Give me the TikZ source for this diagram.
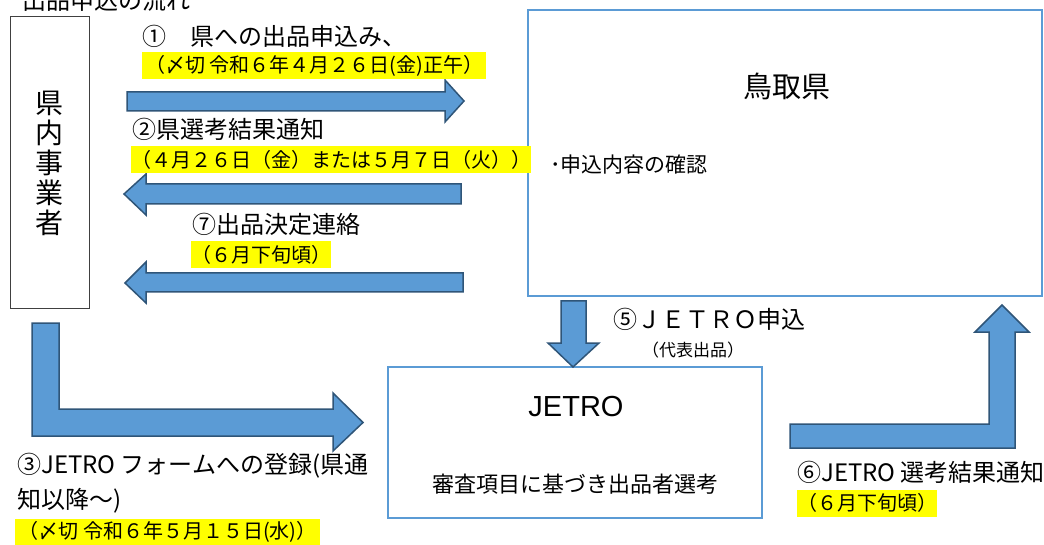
\documentclass[tikz,border=0pt]{standalone}
\usepackage{fontspec}
\setmainfont{Noto Sans CJK JP}
\newfontfamily\latinfont{Liberation Sans}
\usetikzlibrary{positioning}
\definecolor{flowfill}{HTML}{5B9BD5}
\definecolor{flowline}{HTML}{2F5578}
\definecolor{partyline}{HTML}{5B9BD5}
\definecolor{marker}{HTML}{FFFF00}
\tikzset{
    party/.style={
        draw=partyline, line width=2pt,
        inner sep=0pt
    },
    firm/.style={
        draw=black!75, line width=1pt,
        inner sep=0pt, align=center,
        font=\fontsize{28}{30}\selectfont
    },
    flow/.style={
        fill=flowfill, draw=flowline,
        line width=1.5pt, line join=miter
    },
    caption/.style={
        anchor=west, inner sep=0pt,
        font=\fontsize{24}{35}\selectfont
    },
    deadline/.style={
        fill=marker, anchor=west,
        inner sep=0pt, minimum height=27pt,
        font=\fontsize{20}{24}\selectfont
    },
}
\begin{document}
\begin{tikzpicture}[x=1pt, y=-1pt]
        \clip (0,0) rectangle (1044,545);
        \node[anchor=base west, inner sep=0pt, font=\fontsize{24}{28}\selectfont] (title) at (22,10) {出品申込の流れ};

        \node[firm, minimum width=79, minimum height=292] (firm) at (49.5,163) {県\\内\\事\\業\\者};
        \node[party, minimum width=514, minimum height=286] (pref) at (785,153) {};
        \node[party, minimum width=374, minimum height=151] (jetro) at (575,442.5) {};

        \node[font=\fontsize{29}{32}\selectfont] (prefname) at (787,86) {鳥取県};
        \node[caption, font=\fontsize{21}{24}\selectfont] (prefcheck) at (550,165) {･申込内容の確認};
        \node[font=\latinfont\fontsize{29}{32}\selectfont] (jetroname) at (576,407) {JETRO};
        \node[font=\fontsize{22}{26}\selectfont] (jetrosel) at (575,484) {審査項目に基づき出品者選考};

        \draw[flow] (127,92) -- (445,92) -- (445,80) -- (464,101) -- (445,122) -- (445,111) -- (127,111) -- cycle;
        \draw[flow] (461,184) -- (146,184) -- (146,174) -- (124,194) -- (146,215) -- (146,204) -- (461,204) -- cycle;
        \draw[flow] (463,273) -- (146,273) -- (146,262) -- (125,283) -- (146,303) -- (146,292) -- (463,292) -- cycle;
        \draw[flow] (561,301) -- (586,301) -- (586,343) -- (599,343) -- (573,367) -- (548,343) -- (561,343) -- cycle;
        \draw[flow] (32,323) -- (59,323) -- (59,409) -- (333,409) -- (333,393) -- (363,422.5) -- (333,451) -- (333,436) -- (32,436) -- cycle;
        \draw[flow] (790,424) -- (989,424) -- (989,332) -- (975,332) -- (1002,305) -- (1029,332) -- (1015,332) -- (1015,448) -- (790,448) -- cycle;

        \node[caption] (step1) at (142,36) {①　県への出品申込み、};
        \node[deadline, minimum width=344] (due1) at (142,65.5) {（〆切 令和６年４月２６日(金)正午）};
        \node[caption] (step2) at (132,129) {②県選考結果通知};
        \node[deadline, minimum width=382] (due2) at (131,159.5) {（４月２６日（金）または５月７日（火））};
        \node[caption] (step7) at (192,224) {⑦出品決定連絡};
        \node[deadline, minimum width=138] (due7) at (191,255) {（６月下旬頃）};
        \node[caption] (step5) at (613,319) {⑤ＪＥＴＲＯ申込};
        \node[font=\fontsize{17}{20}\selectfont] (step5note) at (693,350) {（代表出品）};
        \node[caption, align=left, anchor=north west] (step3) at (17,453) {③JETRO フォームへの登録(県通\\知以降～)};
        \node[deadline, minimum width=305] (due3) at (15,532) {（〆切 令和６年５月１５日(水)）};
        \node[caption] (step6) at (797,472) {⑥JETRO 選考結果通知};
        \node[deadline, minimum width=138] (due6) at (797,503) {（６月下旬頃）};
    \end{tikzpicture}
\end{document}
